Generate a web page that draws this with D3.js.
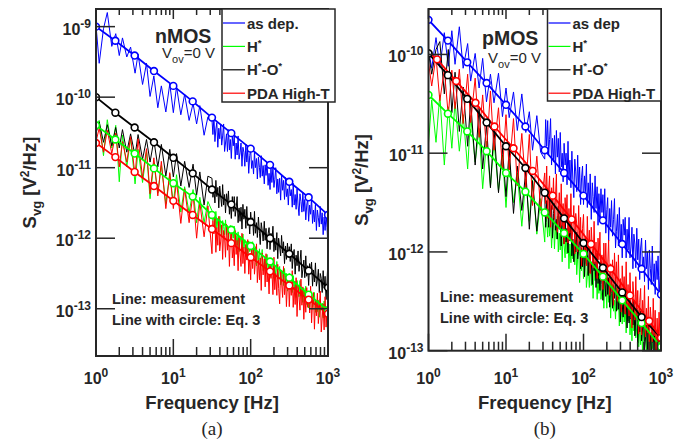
<!DOCTYPE html>
<html>
<head>
<meta charset="utf-8">
<script src="https://cdn.jsdelivr.net/npm/d3@7"></script>
<style>
body { margin: 0; background: #fff; }
svg text { font-family: "Liberation Sans", Arial, Helvetica, sans-serif; fill: #262626; }
</style>
</head>
<body>
<svg id="chart" width="697" height="445"></svg>
<script>
'use strict';

// measurement frequency grid [Hz]
var freq = [1,1.1,1.25,1.4,1.6,1.8,2,2.2,2.5,2.8,3.2,3.5,4,4.5,5,5.6,6.3,7,8,9,10,11,12.5,14,16,18,20,22,25,28,
	31.6,32.5,33.5,34.5,35.5,36.5,37.6,38.7,39.8,41.0,42.2,43.4,44.7,46.0,47.3,48.7,50.1,51.6,53.1,54.6,
	56.2,57.9,59.6,61.3,63.1,64.9,66.8,68.8,70.8,72.9,75.0,77.2,79.4,81.8,84.1,86.6,89.1,91.7,94.4,97.2,
	100,103,106,109,112,115,119,122,126,130,133,137,141,145,150,154,158,163,168,173,
	178,183,188,194,200,205,211,218,224,230,237,244,251,259,266,274,282,290,299,307,
	316,325,335,345,355,365,376,387,398,410,422,434,447,460,473,487,501,516,531,546,
	562,579,596,613,631,649,668,688,708,729,750,772,794,818,841,866,891,917,944,972,1000];

// measured spectra, log10(Svg) -- nMOS
var nAsDep = [-8.98,-9.52,-9.03,-8.80,-9.28,-9.10,-9.41,-9.16,-9.43,-9.29,-9.66,-9.39,-9.82,-9.52,-9.99,
	-9.70,-10.15,-9.84,-10.21,-9.81,-10.22,-9.85,-10.25,-9.96,-10.33,-10.09,-10.38,-10.12,-10.54,-10.28,
	-10.32,-10.53,-10.28,-10.63,-10.45,-10.36,-10.71,-10.44,-10.59,-10.38,
	-10.68,-10.55,-10.38,-10.77,-10.65,-10.52,-10.77,-10.46,-10.75,-10.60,
	-10.87,-10.56,-10.69,-10.54,-10.88,-10.65,-10.82,-10.55,-10.88,-10.79,
	-10.65,-10.98,-10.71,-10.78,-10.98,-10.67,-10.92,-10.75,-11.08,-10.83,
	-10.74,-11.01,-10.90,-11.09,-10.77,-11.00,-10.87,-11.16,-10.85,-11.00,
	-11.14,-10.83,-11.12,-10.97,-11.23,-10.96,-11.11,-10.92,-11.25,-11.08,
	-11.31,-11.00,-11.21,-11.00,-11.28,-11.17,-11.00,-11.37,-11.16,-11.35,
	-11.15,-11.46,-11.11,-11.32,-11.18,-11.45,-11.14,-11.41,-11.30,-11.53,
	-11.23,-11.40,-11.31,-11.56,-11.22,-11.53,-11.38,-11.59,-11.30,-11.53,
	-11.68,-11.37,-11.48,-11.63,-11.35,-11.62,-11.45,-11.74,-11.53,-11.44,
	-11.76,-11.53,-11.66,-11.43,-11.79,-11.60,-11.77,-11.52,-11.89,-11.60,
	-11.71,-11.84,-11.55,-11.80,-11.64,-11.95,-11.70,-11.89,-11.66,-11.85,
	-12.16];
var nH = [-10.38,-10.33,-10.83,-10.32,-10.72,-10.40,-11.20,-10.54,-10.99,-10.58,-11.23,-10.74,-11.21,-10.77,-11.44,
	-10.93,-11.36,-10.97,-11.51,-11.09,-11.50,-11.10,-11.63,-11.27,-11.64,-11.31,-11.78,-11.42,-11.78,-11.48,
	-11.61,-11.75,-11.68,-11.87,-11.62,-11.86,-11.74,-11.91,-11.69,-11.87,
	-11.98,-11.75,-11.83,-11.95,-11.74,-11.95,-11.82,-12.05,-11.89,-11.82,
	-12.07,-11.90,-12.00,-11.83,-12.11,-11.96,-12.10,-11.91,-12.19,-11.97,
	-12.06,-12.16,-11.94,-12.14,-12.02,-12.26,-12.07,-12.22,-12.04,-12.19,
	-12.08,-12.24,-12.05,-12.32,-12.19,-12.12,-12.39,-12.19,-12.31,-12.15,
	-12.38,-12.28,-12.16,-12.46,-12.37,-12.27,-12.47,-12.23,-12.46,-12.34,
	-12.55,-12.32,-12.42,-12.31,-12.57,-12.40,-12.53,-12.33,-12.58,-12.52,
	-12.40,-12.66,-12.45,-12.51,-12.67,-12.43,-12.63,-12.50,-12.75,-12.56,
	-12.50,-12.71,-12.62,-12.77,-12.53,-12.71,-12.61,-12.84,-12.60,-12.72,
	-12.83,-12.60,-12.82,-12.71,-12.91,-12.71,-12.83,-12.68,-12.94,-12.81,
	-12.99,-12.75,-12.92,-12.76,-12.98,-12.89,-12.77,-13.05,-12.89,-13.04,
	-12.88,-13.12,-12.86,-13.02,-12.92,-13.13,-12.89,-13.10,-13.02,-13.20,
	-13.40];
var nHO = [-10.51,-10.35,-10.64,-10.39,-10.69,-10.43,-10.72,-10.46,-10.78,-10.52,-10.83,-10.53,-10.88,-10.60,-10.92,
	-10.61,-10.99,-10.67,-11.12,-10.74,-11.13,-10.80,-11.26,-10.91,-11.28,-10.95,-11.39,-11.06,-11.53,-11.12,
	-11.15,-11.42,-11.31,-11.50,-11.18,-11.41,-11.28,-11.57,-11.26,-11.41,
	-11.55,-11.24,-11.53,-11.38,-11.64,-11.37,-11.52,-11.33,-11.66,-11.49,
	-11.72,-11.41,-11.62,-11.41,-11.69,-11.58,-11.41,-11.78,-11.57,-11.76,
	-11.56,-11.87,-11.52,-11.73,-11.59,-11.86,-11.55,-11.82,-11.71,-11.94,
	-11.63,-11.80,-11.71,-11.96,-11.62,-11.93,-11.78,-11.99,-11.70,-11.93,
	-12.09,-11.78,-11.89,-12.04,-11.76,-12.03,-11.86,-12.15,-11.94,-11.85,
	-12.16,-11.93,-12.06,-11.83,-12.19,-12.00,-12.17,-11.92,-12.29,-12.00,
	-12.12,-12.25,-11.96,-12.21,-12.05,-12.36,-12.11,-12.30,-12.07,-12.26,
	-12.12,-12.33,-12.08,-12.43,-12.25,-12.16,-12.51,-12.24,-12.39,-12.18,
	-12.47,-12.34,-12.17,-12.56,-12.44,-12.31,-12.56,-12.25,-12.54,-12.39,
	-12.67,-12.36,-12.49,-12.34,-12.68,-12.45,-12.62,-12.35,-12.68,-12.59,
	-12.44,-12.77,-12.50,-12.57,-12.77,-12.46,-12.71,-12.54,-12.87,-12.62,
	-12.29];
var nPDA = [-10.63,-10.44,-10.78,-10.47,-10.80,-10.51,-10.99,-10.63,-10.92,-10.56,-11.11,-10.59,-11.14,-10.73,-11.37,
	-10.86,-11.40,-10.91,-11.58,-11.07,-11.58,-11.19,-11.79,-11.30,-11.78,-11.37,-12.00,-11.49,-11.98,-11.54,
	-12.22,-11.75,-11.94,-11.71,-12.20,-11.85,-12.10,-11.69,-12.18,-12.04,
	-11.81,-12.30,-11.89,-11.99,-12.27,-11.80,-12.17,-11.91,-12.40,-12.02,
	-11.88,-12.28,-12.11,-12.39,-11.89,-12.23,-12.03,-12.46,-11.99,-12.21,
	-12.40,-11.93,-12.36,-12.13,-12.50,-12.09,-12.31,-12.02,-12.51,-12.25,
	-12.59,-12.12,-12.43,-12.11,-12.51,-12.34,-12.08,-12.63,-12.31,-12.59,
	-12.28,-12.74,-12.21,-12.52,-12.29,-12.69,-12.22,-12.62,-12.45,-12.79,
	-12.32,-12.57,-12.43,-12.80,-12.27,-12.73,-12.50,-12.81,-12.37,-12.71,
	-12.93,-12.46,-12.62,-12.84,-12.40,-12.80,-12.54,-12.97,-12.65,-12.51,
	-12.97,-12.62,-12.81,-12.46,-12.98,-12.69,-12.94,-12.56,-13.11,-12.67,
	-12.83,-13.02,-12.58,-12.95,-12.69,-13.15,-12.77,-13.05,-12.70,-12.98,
	-12.75,-13.06,-12.68,-13.20,-12.91,-12.77,-13.29,-12.88,-13.10,-12.78,
	-13.21,-13.01,-12.75,-13.33,-13.13,-12.93,-13.30,-12.83,-13.26,-13.03,
	-13.28];

// measured spectra, log10(Svg) -- pMOS
var pAsDep = [-9.95,-10.14,-9.83,-10.13,-9.78,-10.12,-9.76,-10.10,-9.72,-10.14,-9.89,-10.27,-9.99,-10.34,-10.04,
	-10.48,-10.20,-10.49,-10.19,-10.63,-10.34,-10.64,-10.38,-10.77,-10.40,-10.79,-10.58,-10.97,-10.62,-10.99,
	-11.06,-10.66,-10.93,-10.67,-11.01,-10.86,-10.65,-11.12,-10.85,-11.09,
	-10.82,-11.21,-10.77,-11.04,-10.85,-11.19,-10.79,-11.14,-11.00,-11.29,
	-10.90,-11.12,-11.00,-11.32,-10.88,-11.27,-11.07,-11.35,-10.98,-11.27,
	-11.45,-11.06,-11.19,-11.39,-11.02,-11.36,-11.14,-11.52,-11.25,-11.13,
	-11.52,-11.23,-11.39,-11.11,-11.55,-11.30,-11.52,-11.21,-11.67,-11.30,
	-11.44,-11.60,-11.23,-11.56,-11.34,-11.73,-11.41,-11.66,-11.36,-11.60,
	-11.42,-11.68,-11.36,-11.81,-11.57,-11.45,-11.89,-11.56,-11.75,-11.48,
	-11.84,-11.67,-11.46,-11.96,-11.79,-11.62,-11.94,-11.55,-11.92,-11.72,
	-12.06,-11.67,-11.83,-11.65,-12.06,-11.77,-11.98,-11.65,-12.06,-11.95,
	-11.75,-12.17,-11.82,-11.92,-12.16,-11.76,-12.08,-11.87,-12.28,-11.96,
	-11.86,-12.20,-12.05,-12.30,-11.88,-12.17,-12.00,-12.38,-11.98,-12.17,
	-12.33,-11.94,-12.30,-12.12,-12.43,-12.09,-12.28,-12.04,-12.46,-12.24,
	-10.95];
var pH = [-10.90,-10.46,-10.89,-10.41,-11.12,-10.53,-10.95,-10.48,-10.98,-10.61,-11.16,-10.62,-11.09,-10.75,-11.36,
	-10.88,-11.34,-10.88,-11.38,-11.02,-11.55,-11.06,-11.50,-11.20,-11.74,-11.26,-11.69,-11.27,-11.82,-11.46,
	-11.90,-11.59,-11.70,-11.85,-11.57,-11.84,-11.67,-11.96,-11.75,-11.66,
	-11.97,-11.74,-11.87,-11.64,-12.00,-11.81,-11.98,-11.73,-12.10,-11.81,
	-11.93,-12.06,-11.77,-12.02,-11.86,-12.17,-11.92,-12.11,-11.88,-12.07,
	-11.92,-12.13,-11.88,-12.23,-12.05,-11.96,-12.31,-12.04,-12.19,-11.98,
	-12.27,-12.14,-11.97,-12.36,-12.24,-12.11,-12.36,-12.05,-12.34,-12.19,
	-12.47,-12.16,-12.29,-12.14,-12.48,-12.25,-12.42,-12.15,-12.48,-12.39,
	-12.24,-12.57,-12.30,-12.37,-12.57,-12.26,-12.51,-12.34,-12.67,-12.42,
	-12.33,-12.60,-12.49,-12.68,-12.36,-12.59,-12.46,-12.75,-12.44,-12.59,
	-12.73,-12.42,-12.71,-12.56,-12.82,-12.55,-12.70,-12.51,-12.84,-12.67,
	-12.90,-12.59,-12.80,-12.59,-12.87,-12.76,-12.59,-12.96,-12.75,-12.94,
	-12.73,-13.04,-12.69,-12.90,-12.76,-13.03,-12.72,-12.99,-12.88,-13.11,
	-12.81,-12.98,-12.89,-13.14,-12.80,-13.11,-12.96,-13.17,-12.88,-13.11,
	-12.96];
var pHO = [-9.98,-10.20,-9.95,-9.87,-10.40,-9.95,-10.59,-10.18,-10.78,-10.33,-10.93,-10.47,-11.12,-10.54,-11.16,
	-10.71,-11.35,-10.75,-11.40,-10.95,-11.44,-10.96,-11.61,-11.13,-11.58,-11.18,-11.77,-11.28,-11.79,-11.34,
	-11.42,-11.75,-11.48,-11.56,-11.75,-11.44,-11.69,-11.53,-11.86,-11.61,
	-11.51,-11.78,-11.67,-11.87,-11.54,-11.77,-11.64,-11.94,-11.63,-11.78,
	-11.92,-11.61,-11.90,-11.76,-12.01,-11.74,-11.89,-11.71,-12.04,-11.87,
	-12.10,-11.79,-12.00,-11.80,-12.07,-11.96,-11.79,-12.17,-11.96,-12.15,
	-11.94,-12.25,-11.90,-12.12,-11.97,-12.24,-11.93,-12.21,-12.10,-12.33,
	-12.02,-12.19,-12.10,-12.36,-12.01,-12.32,-12.17,-12.39,-12.10,-12.33,
	-12.49,-12.18,-12.29,-12.45,-12.16,-12.43,-12.26,-12.56,-12.35,-12.26,
	-12.57,-12.34,-12.47,-12.25,-12.60,-12.41,-12.58,-12.34,-12.71,-12.42,
	-12.53,-12.66,-12.37,-12.63,-12.46,-12.77,-12.52,-12.72,-12.49,-12.68,
	-12.53,-12.74,-12.49,-12.85,-12.66,-12.57,-12.92,-12.66,-12.81,-12.60,
	-12.90,-12.77,-12.60,-13.00,-12.87,-12.74,-12.99,-12.69,-12.98,-12.83,
	-13.10,-12.79,-12.92,-12.78,-13.11,-12.88,-13.05,-12.79,-13.12,-13.03,
	-12.87];
var pPDA = [-10.08,-10.32,-10.02,-10.47,-10.15,-10.62,-10.16,-10.55,-10.15,-10.70,-10.20,-10.69,-10.24,-10.84,-10.41,
	-10.98,-10.37,-10.97,-10.54,-11.17,-10.61,-11.17,-10.65,-11.33,-10.80,-11.35,-10.81,-11.53,-11.03,-11.58,
	-11.20,-11.51,-11.13,-11.66,-11.37,-11.23,-11.75,-11.35,-11.57,-11.25,
	-11.67,-11.47,-11.21,-11.80,-11.60,-11.40,-11.77,-11.31,-11.74,-11.51,
	-11.92,-11.45,-11.64,-11.42,-11.91,-11.56,-11.81,-11.41,-11.90,-11.76,
	-11.53,-12.02,-11.61,-11.72,-12.00,-11.53,-11.90,-11.65,-12.14,-11.76,
	-11.62,-12.02,-11.85,-12.14,-11.64,-11.98,-11.78,-12.22,-11.75,-11.97,
	-12.16,-11.69,-12.12,-11.90,-12.27,-11.86,-12.08,-11.80,-12.29,-12.03,
	-12.38,-11.91,-12.22,-11.91,-12.31,-12.14,-11.88,-12.44,-12.12,-12.40,
	-12.08,-12.54,-12.01,-12.33,-12.10,-12.50,-12.03,-12.44,-12.27,-12.61,
	-12.14,-12.39,-12.25,-12.63,-12.10,-12.56,-12.33,-12.65,-12.21,-12.55,
	-12.77,-12.30,-12.46,-12.69,-12.25,-12.65,-12.39,-12.83,-12.51,-12.37,
	-12.84,-12.49,-12.68,-12.34,-12.86,-12.57,-12.82,-12.45,-13.00,-12.56,
	-12.72,-12.91,-12.47,-12.85,-12.59,-13.05,-12.67,-12.96,-12.61,-12.89,
	-11.54];

// Eq. 3 model points (line with circle), log10(Svg)
var fitFreq = [1,1.78,3.16,5.62,10,17.8,31.6,56.2,100,178,316,562,1000];
var nAsDepFit = [-9.00,-9.20,-9.41,-9.63,-9.84,-10.06,-10.29,-10.51,-10.73,-10.96,-11.20,-11.42,-11.67];
var nHFit = [-10.40,-10.60,-10.80,-11.01,-11.22,-11.41,-11.67,-11.88,-12.11,-12.33,-12.56,-12.80,-13.02];
var nHOFit = [-10.00,-10.22,-10.43,-10.64,-10.86,-11.08,-11.31,-11.52,-11.77,-12.00,-12.22,-12.46,-12.70];
var nPDAFit = [-10.65,-10.85,-11.06,-11.26,-11.47,-11.67,-11.87,-12.07,-12.27,-12.47,-12.67,-12.87,-13.07];
var pAsDepFit = [-9.65,-9.86,-10.08,-10.29,-10.51,-10.73,-10.97,-11.20,-11.43,-11.68,-11.92,-12.17,-12.43];
var pHFit = [-10.41,-10.60,-10.78,-10.98,-11.20,-11.39,-11.60,-11.81,-12.02,-12.25,-12.49,-12.72,-12.96];
var pHOFit = [-9.99,-10.21,-10.45,-10.69,-10.93,-11.15,-11.40,-11.66,-11.91,-12.16,-12.41,-12.66,-12.87];
var pPDAFitFreq = [1,1.29,2.28,4.04,7.1,12.5,22.1,40.1,70.5,125,224,398,705,1000];
var pPDAFit = [-9.98,-10.05,-10.27,-10.49,-10.73,-10.95,-11.18,-11.43,-11.67,-11.92,-12.17,-12.44,-12.70,-12.87];

var nNames = ['as dep.', 'H*', 'H*-O*', 'PDA High-T'];
var pNames = ['as dep', 'H*', 'H*-O*', 'PDA High-T'];
var xTickExp = [0, 1, 2, 3];
var nYTickExp = [-9, -10, -11, -12, -13];
var pYTickExp = [-10, -11, -12, -13];
var colors = ['#0000ff', '#00ff00', '#000000', '#ff0000'];

var svg = d3.select('#chart');
var ink = '#262626';

function zip(f, v) {
	return f.map(function(d, i) { return {f: d, v: v[i]} });
}

// label with '*' drawn as superscript
function starText(sel, label, size) {
	var parts = label.split('*');
	var up = false;
	parts.forEach(function(p, i) {
		if (p) sel.append('tspan').attr('dy', up ? 6 : 0).text(p);
		up = false;
		if (i < parts.length - 1) {
			sel.append('tspan').attr('dy', -6).attr('font-size', size * 0.65).text('*');
			up = true;
		}
	});
}

function powLabel(sel, exp, size) {
	sel.append('tspan').text('10');
	sel.append('tspan').attr('dy', -7).attr('font-size', size * 0.75).text(exp);
}

var panels = [
	{
		key: 'a', x0: 96, x1: 328, y0: 9, y1: 356, yLo: -13.67, yHi: -8.75, yTicks: nYTickExp,
		meas: [nAsDep, nH, nHO, nPDA],
		fits: [zip(fitFreq, nAsDepFit), zip(fitFreq, nHFit), zip(fitFreq, nHOFit), zip(fitFreq, nPDAFit)],
		names: nNames, title: 'nMOS', titleX: 155, titleY: 43, vX: 162, vY: 57,
		legend: {x: 222, y: 9, w: 113, h: 93},
		noteX: 112, noteY: 304, yLabelX: 36
	},
	{
		key: 'b', x0: 428.5, x1: 661, y0: 9, y1: 350.7, yLo: -13, yHi: -9.54, yTicks: pYTickExp,
		meas: [pAsDep, pH, pHO, pPDA],
		fits: [zip(fitFreq, pAsDepFit), zip(fitFreq, pHFit), zip(fitFreq, pHOFit), zip(pPDAFitFreq, pPDAFit)],
		names: pNames, title: 'pMOS', titleX: 482, titleY: 45, vX: 488, vY: 62,
		legend: {x: 547.5, y: 9, w: 113.5, h: 92},
		noteX: 440, noteY: 302, yLabelX: 368
	}
];

panels.forEach(function(P) {
	var x = d3.scaleLog().domain([1, 1000]).range([P.x0, P.x1]);
	var y = d3.scaleLog().domain([Math.pow(10, P.yLo), Math.pow(10, P.yHi)]).range([P.y1, P.y0]);
	var g = svg.append('g');

	g.append('clipPath').attr('id', 'clip' + P.key)
		.append('rect').attr('x', P.x0).attr('y', P.y0).attr('width', P.x1 - P.x0).attr('height', P.y1 - P.y0);

	var line = d3.line()
		.x(function(d) { return x(d.f) })
		.y(function(d) { return y(Math.pow(10, d.v)) });

	var plot = g.append('g').attr('clip-path', 'url(#clip' + P.key + ')');

	// measurements
	P.meas.forEach(function(m, i) {
		plot.append('path').attr('d', line(zip(freq, m)))
			.attr('fill', 'none').attr('stroke', colors[i]).attr('stroke-width', 1)
			.attr('stroke-linejoin', 'miter').attr('stroke-miterlimit', 2);
	});
	// model lines with circles
	P.fits.forEach(function(fd, i) {
		plot.append('path').attr('d', line(fd))
			.attr('fill', 'none').attr('stroke', colors[i]).attr('stroke-width', 1.8);
	});
	P.fits.forEach(function(fd, i) {
		var pts = fd;
		if (P.key == 'b' && i == 3) pts = fd.slice(1); // first point sits under the H*-O* marker
		plot.selectAll(null).data(pts).enter().append('circle')
			.attr('cx', function(d) { return x(d.f) })
			.attr('cy', function(d) { return y(Math.pow(10, d.v)) })
			.attr('r', 3.4).attr('fill', '#fff').attr('stroke', colors[i]).attr('stroke-width', 1.6);
	});
	if (P.key == 'b') {
		var d0 = P.fits[2][0];
		plot.append('circle').attr('cx', x(d0.f)).attr('cy', y(Math.pow(10, d0.v)))
			.attr('r', 3.4).attr('fill', '#fff').attr('stroke', colors[2]).attr('stroke-width', 1.6);
	}

	// ticks
	var ax = g.append('g').attr('stroke', ink);
	xTickExp.forEach(function(e) {
		var tx = x(Math.pow(10, e));
		ax.append('line').attr('x1', tx).attr('x2', tx).attr('y1', P.y1).attr('y2', P.y1 - 17).attr('stroke-width', 1.5);
		ax.append('line').attr('x1', tx).attr('x2', tx).attr('y1', P.y0).attr('y2', P.y0 + 10).attr('stroke-width', 1.5);
		if (e < 3) {
			for (var k = 2; k < 10; k++) {
				var mx = x(k * Math.pow(10, e));
				ax.append('line').attr('x1', mx).attr('x2', mx).attr('y1', P.y1).attr('y2', P.y1 - 9).attr('stroke-width', 1.5);
				ax.append('line').attr('x1', mx).attr('x2', mx).attr('y1', P.y0).attr('y2', P.y0 + 6).attr('stroke-width', 1.5);
			}
		}
		var t = g.append('text').attr('x', tx).attr('y', 384).attr('text-anchor', 'middle')
			.attr('font-size', 16).attr('font-weight', 'bold');
		powLabel(t, e, 16);
	});
	P.yTicks.forEach(function(e) {
		var ty = y(Math.pow(10, e));
		ax.append('line').attr('x1', P.x0).attr('x2', P.x0 + 19).attr('y1', ty).attr('y2', ty).attr('stroke-width', 1.5);
		ax.append('line').attr('x1', P.x1).attr('x2', P.x1 - 19).attr('y1', ty).attr('y2', ty).attr('stroke-width', 1.5);
		var t = g.append('text').attr('x', P.x0 - 5).attr('y', ty + 8).attr('text-anchor', 'end')
			.attr('font-size', 16).attr('font-weight', 'bold');
		powLabel(t, e, 16);
	});

	g.append('rect').attr('x', P.x0).attr('y', P.y0).attr('width', P.x1 - P.x0).attr('height', P.y1 - P.y0)
		.attr('fill', 'none').attr('stroke', ink).attr('stroke-width', 2);

	// axis titles
	var cx = (P.x0 + P.x1) / 2, cy = (P.y0 + P.y1) / 2;
	g.append('text').attr('x', cx).attr('y', 409).attr('text-anchor', 'middle')
		.attr('font-size', 18.5).attr('font-weight', 'bold').text('Frequency [Hz]');
	var yl = g.append('text').attr('transform', 'translate(' + P.yLabelX + ',' + cy + ') rotate(-90)')
		.attr('text-anchor', 'middle').attr('font-size', 18.5).attr('font-weight', 'bold');
	yl.append('tspan').text('S');
	yl.append('tspan').attr('dy', 5).attr('font-size', 13).text('vg');
	yl.append('tspan').attr('dy', -5).text(' [V');
	yl.append('tspan').attr('dy', -7).attr('font-size', 12).text('2');
	yl.append('tspan').attr('dy', 7).text('/Hz]');
	g.append('text').attr('x', cx).attr('y', 435).attr('text-anchor', 'middle')
		.attr('font-size', 19).style('font-family', '"Liberation Serif", "Times New Roman", serif').text('(' + P.key + ')');

	// device labels
	g.append('text').attr('x', P.titleX).attr('y', P.titleY).attr('font-size', 19.5).attr('font-weight', 'bold').text(P.title);
	var vt = g.append('text').attr('x', P.vX).attr('y', P.vY + 1).attr('font-size', 15);
	vt.append('tspan').text('V');
	vt.append('tspan').attr('dy', 5).attr('font-size', 11).text('ov');
	vt.append('tspan').attr('dy', -5).text('=0 V');

	// notes
	g.append('text').attr('x', P.noteX).attr('y', P.noteY).attr('font-size', 14.5).attr('font-weight', 'bold').text('Line: measurement');
	g.append('text').attr('x', P.noteX).attr('y', P.noteY + 20.5).attr('font-size', 14.5).attr('font-weight', 'bold').text('Line with circle: Eq. 3');

	// legend
	var L = P.legend;
	var lg = g.append('g');
	lg.append('rect').attr('x', L.x).attr('y', L.y).attr('width', L.w).attr('height', L.h)
		.attr('fill', '#fff').attr('stroke', ink).attr('stroke-width', 1.5);
	P.names.forEach(function(n, i) {
		var ry = L.y + 14 + i * 23.4;
		lg.append('line').attr('x1', L.x + 1).attr('x2', L.x + 23).attr('y1', ry).attr('y2', ry)
			.attr('stroke', colors[i]).attr('stroke-width', 1.2);
		var t = lg.append('text').attr('x', L.x + 25).attr('y', ry + 5.5).attr('font-size', 15).attr('font-weight', 'bold');
		starText(t, n, 15);
	});
});
</script>
</body>
</html>
